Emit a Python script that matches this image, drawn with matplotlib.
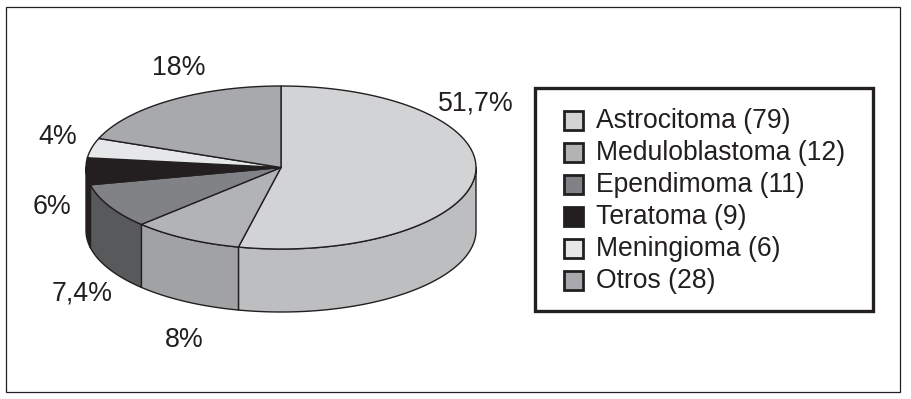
import numpy as np
import matplotlib
matplotlib.use("Agg")
import matplotlib.pyplot as plt
from matplotlib.patches import Polygon, Rectangle

plt.rcParams['font.family'] = ['Liberation Sans', 'DejaVu Sans']

categories = ["Astrocitoma", "Meduloblastoma", "Ependimoma", "Teratoma", "Meningioma", "Otros"]
counts = [79, 12, 11, 9, 6, 28]
slice_shares = [53.5, 9.2, 8.9, 5.3, 3.9, 19.2]   # share of the circle as drawn
pct_labels = ["51,7%", "8%", "7,4%", "6%", "4%", "18%"]
top_colors = ["#d1d3d4", "#b1b3b5", "#808285", "#231f20", "#e6e7e8", "#a7a9ac"]
side_colors = ["#bcbec0", "#a0a2a4", "#58595b", "#231f20", "#e6e7e8", "#a7a9ac"]

W, H = 912, 399
fig = plt.figure(figsize=(W / 100, H / 100), dpi=100, facecolor="white")
ax = fig.add_axes([0, 0, 1, 1])
ax.set_xlim(0, W)
ax.set_ylim(H, 0)
ax.axis("off")

INK = "#231f20"
ax.add_patch(Rectangle((6.5, 7), 894, 385, fill=False, ec=INK, lw=0.9))

cx, cy, rx, ry, depth = 281, 167.5, 195, 81.5, 63


def rim(a0, a1, n=120):
    """Rim points, angle clockwise from 12 o'clock."""
    t = np.radians(np.linspace(a0, a1, n))
    return np.column_stack([cx + rx * np.sin(t), cy - ry * np.cos(t)])


edges = 360 * np.cumsum([0] + slice_shares) / sum(slice_shares)

# side walls: only the front half of the rim (90..270 degrees) is visible
for i in range(len(categories)):
    a0, a1 = max(edges[i], 90), min(edges[i + 1], 270)
    if a1 <= a0:
        continue
    p = rim(a0, a1)
    wall = np.vstack([p, (p + [0, depth])[::-1]])
    ax.add_patch(Polygon(wall, closed=True, fc=side_colors[i], ec=INK, lw=1.0, joinstyle="round"))

# top faces
for i in range(len(categories)):
    p = rim(edges[i], edges[i + 1])
    ax.add_patch(Polygon(np.vstack([[cx, cy], p]), closed=True, fc=top_colors[i], ec=INK, lw=1.0,
                         joinstyle="round"))

# percentage labels
label_xy = [(475.5, 104), (184, 340), (82, 294), (52, 207), (58, 137), (179, 68)]
for s, (x, y) in zip(pct_labels, label_xy):
    ax.text(x, y, s, fontsize=19.3, color=INK, ha="center", va="center")

# legend
ax.add_patch(Rectangle((535.5, 88), 338, 223, fill=False, ec=INK, lw=2.4))
y0, dy = 120, 32
for i, (c, n) in enumerate(zip(categories, counts)):
    y = y0 + i * dy
    ax.add_patch(Rectangle((564, y - 9.5), 19, 19, fc=top_colors[i], ec=INK, lw=2.0))
    ax.text(596, y + 1, f"{c} ({n})", fontsize=19.1, color=INK, ha="left", va="center")

fig.savefig("out.png", dpi=100)
